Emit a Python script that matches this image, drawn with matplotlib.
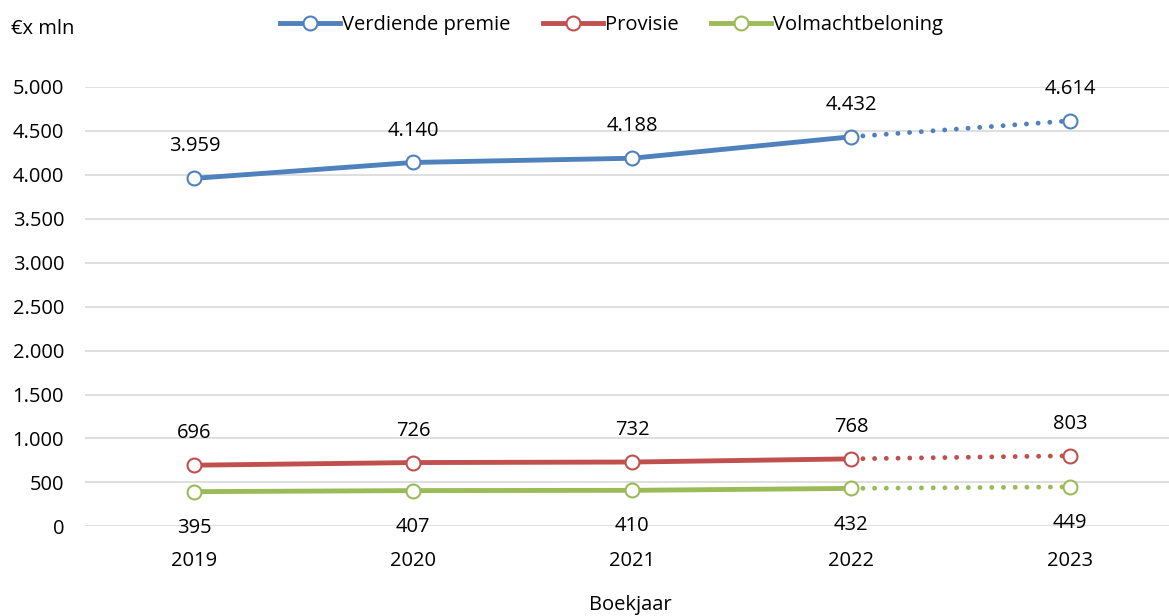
import matplotlib.pyplot as plt
from matplotlib.lines import Line2D
from matplotlib.ticker import FuncFormatter

plt.rcParams['font.family'] = ['Open Sans', 'DejaVu Sans']

years = ['2019', '2020', '2021', '2022', '2023']
premie = [3959, 4140, 4188, 4432, 4614]
provisie = [696, 726, 732, 768, 803]
volmacht = [395, 407, 410, 432, 449]
series_names = ['Verdiende premie', 'Provisie', 'Volmachtbeloning']
colors = ['#4F81BD', '#C0504D', '#9BBB59']

FS = 14.5


def dotnum(v, pos=None):
    return f'{int(v):,}'.replace(',', '.')


fig = plt.figure(figsize=(11.69, 6.16), dpi=100)
ax = fig.add_axes([0.0727, 0.1455, 0.9363, 0.7135])

x = list(range(len(years)))
all_series = [premie, provisie, volmacht]
label_offsets = [23, 23, -26]

for vals, color, name, off in zip(all_series, colors, series_names, label_offsets):
    # actual years solid, last year (forecast) dotted
    ax.plot(x[:4], vals[:4], color=color, lw=3.5, solid_capstyle='round', zorder=3)
    ax.plot(x[3:], vals[3:], color=color, lw=3.5, linestyle=(0, (0.01, 2.4)),
            dash_capstyle='round', zorder=3)
    ax.plot(x, vals, linestyle='none', marker='o', markersize=10,
            markerfacecolor='white', markeredgecolor=color, markeredgewidth=1.5, zorder=4)
    for xi, v in zip(x, vals):
        ax.annotate(dotnum(v), (xi, v), xytext=(0, off), textcoords='offset points',
                    ha='center', va='center', fontsize=FS)

ax.set_xlim(-0.5, 4.5)
ax.set_ylim(0, 5000)
ax.set_yticks(range(0, 5001, 500))
ax.yaxis.set_major_formatter(FuncFormatter(dotnum))
ax.set_xticks(x)
ax.set_xticklabels(years)
ax.tick_params(axis='both', length=0, labelsize=FS)
ax.tick_params(axis='x', pad=18)
ax.tick_params(axis='y', pad=15)
ax.grid(axis='y', color='#D9D9D9', lw=1.2)
ax.set_axisbelow(True)
for s in ax.spines.values():
    s.set_visible(False)

fig.text(0.009, 0.953, '€x mln', fontsize=FS, va='center', ha='left')
fig.text(0.539, 0.018, 'Boekjaar', fontsize=FS, va='center', ha='center')

handles = [Line2D([], [], color=c, lw=3.5, marker='o', markersize=10,
                  markerfacecolor='white', markeredgecolor=c, markeredgewidth=1.5)
           for c in colors]
fig.legend(handles, series_names, loc='center', bbox_to_anchor=(0.523, 0.96), ncol=3,
           frameon=False, fontsize=FS, handlelength=3.0, handletextpad=0.1,
           columnspacing=1.6)

fig.savefig('out.png', dpi=100)
